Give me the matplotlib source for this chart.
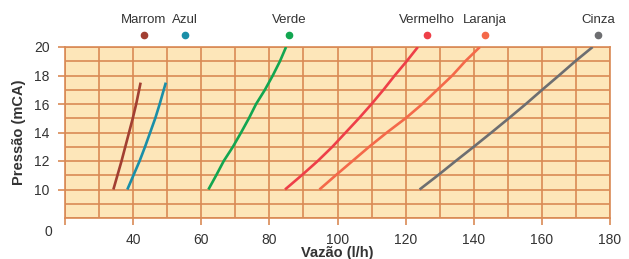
import matplotlib
matplotlib.use("Agg")
import matplotlib.pyplot as plt

plt.rcParams['font.family'] = ['Liberation Sans', 'DejaVu Sans']

# Data (flow l/h, pressure mCA)
names = ["Marrom", "Azul", "Verde", "Vermelho", "Laranja", "Cinza"]
colors = ["#A23F32", "#1A8FA8", "#12A650", "#EE3F48", "#F4694A", "#6D6E71"]
label_x = [43.2, 55.2, 85.7, 126.2, 143.3, 176.5]

marrom_x = [34.2, 35.4, 36.6, 37.7, 38.8, 39.9, 40.9, 42.2]
marrom_y = [10, 11, 12, 13, 14, 15, 16, 17.5]
azul_x = [38.3, 40.1, 41.9, 43.5, 45.0, 46.5, 47.8, 49.6]
azul_y = [10, 11, 12, 13, 14, 15, 16, 17.5]
verde_x = [62.1, 64.4, 66.6, 69.3, 71.7, 74.0, 76.1, 78.7, 81.0, 83.1, 84.9]
verde_y = [10, 11, 12, 13, 14, 15, 16, 17, 18, 19, 20]
vermelho_x = [84.6, 89.5, 94.2, 98.5, 102.4, 106.3, 110.0, 113.5, 116.8, 120.3, 123.6]
vermelho_y = [10, 11, 12, 13, 14, 15, 16, 17, 18, 19, 20]
laranja_x = [94.7, 99.5, 104.4, 109.3, 114.5, 120.0, 124.9, 129.3, 133.7, 137.5, 141.8]
laranja_y = [10, 11, 12, 13, 14, 15, 16, 17, 18, 19, 20]
cinza_x = [124.1, 129.5, 134.7, 140.0, 145.2, 150.3, 155.3, 160.1, 165.0, 169.8, 174.9]
cinza_y = [10, 11, 12, 13, 14, 15, 16, 17, 18, 19, 20]

series_x = [marrom_x, azul_x, verde_x, vermelho_x, laranja_x, cinza_x]
series_y = [marrom_y, azul_y, verde_y, vermelho_y, laranja_y, cinza_y]

x_ticks = [20, 40, 60, 80, 100, 120, 140, 160, 180]
x_ticklabels = ["", "40", "60", "80", "100", "120", "140", "160", "180"]
y_ticks = [10, 12, 14, 16, 18, 20]

grid_c = "#D98A55"
bg_c = "#FDE6B9"
text_c = "#333333"

fig = plt.figure(figsize=(6.29, 2.59), dpi=100)
ax = fig.add_axes([65/629, 1-218/259, (610-65)/629, (218-47)/259])
ax.set_facecolor(bg_c)
ax.set_xlim(20, 180)
ax.set_ylim(8, 20)

ax.set_xticks(range(20, 181, 10), minor=True)
ax.set_yticks(range(8, 21, 1), minor=True)
ax.grid(True, which='both', color=grid_c, linewidth=1.2, zorder=1)
ax.set_axisbelow(True)
ax.tick_params(which='minor', length=0)

ax.set_xticks(x_ticks)
ax.set_xticklabels(x_ticklabels)
ax.set_yticks(y_ticks)
ax.tick_params(which='major', color=grid_c, width=1.2, length=5,
               labelsize=10, labelcolor=text_c, pad=6)
for s in ax.spines.values():
    s.set_color(grid_c)
    s.set_linewidth(1.2)

for xs, ys, c in zip(series_x, series_y, colors):
    ax.plot(xs, ys, color=c, linewidth=1.9, solid_capstyle='butt',
            solid_joinstyle='round', zorder=3)

for n, lx, c in zip(names, label_x, colors):
    ax.plot([lx], [20.85], 'o', color=c, markersize=4.5, clip_on=False, zorder=4)
    ax.text(lx, 21.9, n, ha='center', va='center', fontsize=9.5, color=text_c)

ax.text(-0.031, -0.08, "0", transform=ax.transAxes, ha='center', va='center',
        fontsize=10, color=text_c)

ax.set_xlabel("Vazão (l/h)", fontsize=10.5, fontweight='bold', color=text_c, labelpad=-1)
ax.set_ylabel("Pressão (mCA)", fontsize=10.5, fontweight='bold', color=text_c, labelpad=6)

fig.savefig("out.png", dpi=100, facecolor='white')
